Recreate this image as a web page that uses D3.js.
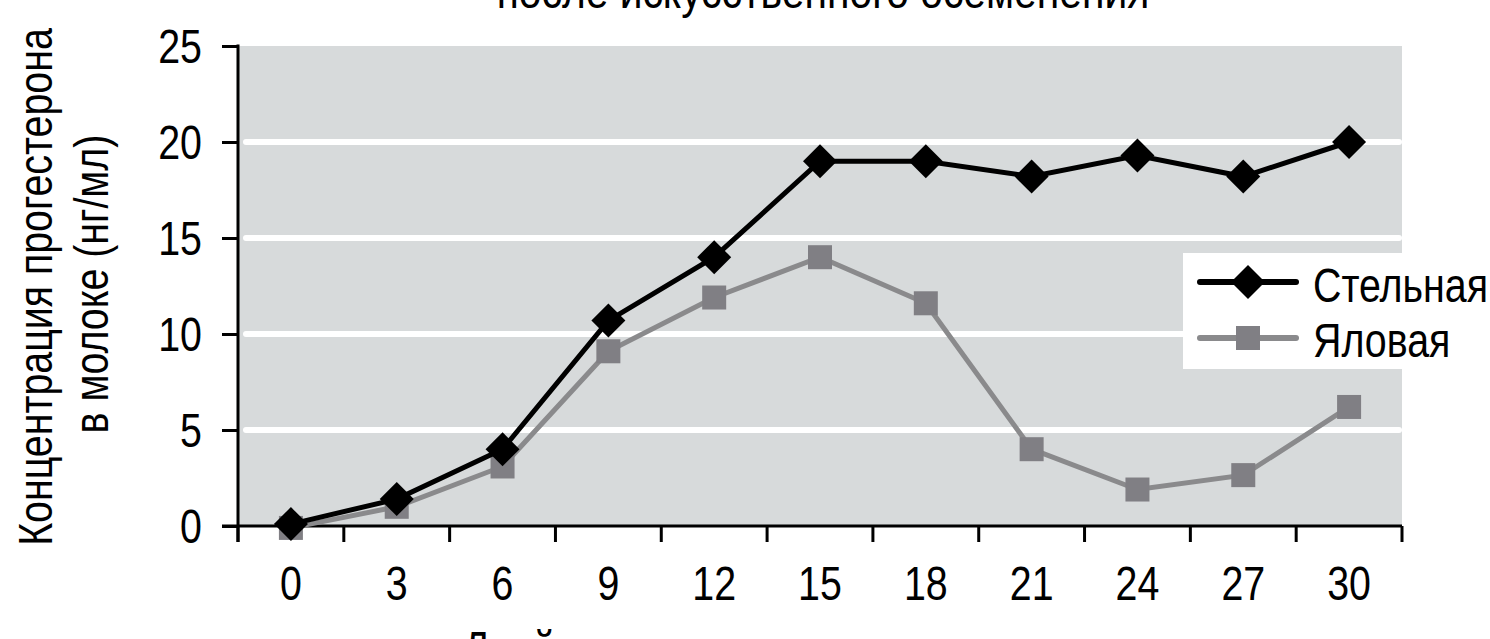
<!DOCTYPE html>
<html>
<head>
<meta charset="utf-8">
<script src="https://cdn.jsdelivr.net/npm/d3@7"></script>
<style>
  html, body { margin: 0; padding: 0; background: #fff; }
  svg { display: block; }
  text { font-family: "Liberation Sans", Arial, sans-serif; fill: #000; }
</style>
</head>
<body>
<svg id="chart" width="1490" height="639"></svg>
<script>
// Days after insemination
const days = [0, 3, 6, 9, 12, 15, 18, 21, 24, 27, 30];
// Progesterone in milk, ng/ml
const pregnant = [0.1, 1.4, 4.0, 10.7, 14.0, 19.0, 19.0, 18.2, 19.3, 18.2, 20.0];
const open = [-0.1, 1.0, 3.1, 9.1, 11.9, 14.0, 11.6, 4.0, 1.9, 2.65, 6.2];
const yTicks = [0, 5, 10, 15, 20, 25];
const gridValues = [5, 10, 15, 20];
const seriesNames = ["Стельная", "Яловая"];

const svg = d3.select("#chart");
const plotLeft = 238, plotRight = 1402, plotTop = 46, plotBottom = 526;
const FONT = 48, NARROW = 0.82;

const x = d3.scaleBand().domain(days).range([plotLeft, plotRight]).padding(0);
const y = d3.scaleLinear().domain([0, 25]).range([plotBottom, plotTop]);
const cx = d => x(d) + x.bandwidth() / 2;

// condensed text: regular sans squeezed along its baseline
function narrowText(parent, px, py, str, anchor = "start", rotate = 0, dy = null, squeeze = NARROW) {
  const g = parent.append("g")
    .attr("transform", `translate(${px},${py}) rotate(${rotate}) scale(${squeeze},1)`);
  const t = g.append("text").attr("font-size", FONT).attr("text-anchor", anchor).text(str);
  if (dy) t.attr("dy", dy);
  return t;
}

// plot background
svg.append("rect")
  .attr("x", plotLeft).attr("y", y(25))
  .attr("width", plotRight - plotLeft).attr("height", y(0) - y(25))
  .attr("fill", "#d7dadb");

// white horizontal grid
svg.append("g").selectAll("line").data(gridValues).join("line")
  .attr("x1", plotLeft + 8).attr("x2", plotRight - 3)
  .attr("y1", d => y(d)).attr("y2", d => y(d))
  .attr("stroke", "#fff").attr("stroke-width", 6).attr("stroke-linecap", "round");

// y axis (ticks from d3, labels drawn condensed)
const yAxis = d3.axisLeft(y).tickValues(yTicks).tickSize(16).tickFormat("").tickSizeOuter(0);
const gy = svg.append("g").attr("transform", `translate(${plotLeft},0)`).call(yAxis);
gy.select(".domain").remove();
gy.append("line").attr("x1", 0).attr("x2", 0).attr("y1", y(25) - 1.5).attr("y2", plotBottom + 16)
  .attr("stroke", "#000").attr("stroke-width", 3);
gy.selectAll(".tick line").attr("stroke", "#000").attr("stroke-width", 3);
const gyl = svg.append("g");
yTicks.forEach(v => narrowText(gyl, 202, y(v), String(v), "end", 0, "0.36em"));

// x axis: ticks at band boundaries, labels at band centres
const gx = svg.append("g");
gx.append("line").attr("x1", plotLeft - 16).attr("x2", plotRight).attr("y1", plotBottom).attr("y2", plotBottom)
  .attr("stroke", "#000").attr("stroke-width", 3);
const boundaries = days.map(d => x(d)).concat([plotRight]);
gx.selectAll("line.tick").data(boundaries).join("line").attr("class", "tick")
  .attr("x1", d => d).attr("x2", d => d).attr("y1", plotBottom).attr("y2", plotBottom + 16)
  .attr("stroke", "#000").attr("stroke-width", 3);
days.forEach(d => narrowText(gx, cx(d), 600, String(d), "middle"));

// series lines
const line = d3.line().x((d, i) => cx(days[i])).y(d => y(d));
svg.append("path").datum(open).attr("d", line)
  .attr("fill", "none").attr("stroke", "#8a8a8c").attr("stroke-width", 5);
svg.append("g").selectAll("rect").data(open).join("rect")
  .attr("x", (d, i) => cx(days[i]) - 12)
  .attr("y", d => y(d) - 12).attr("width", 24).attr("height", 24)
  .attr("fill", "#807f84");

svg.append("path").datum(pregnant).attr("d", line)
  .attr("fill", "none").attr("stroke", "#000").attr("stroke-width", 5);
const diamond = s => `M0,${-s}L${s},0L0,${s}L${-s},0Z`;
svg.append("g").selectAll("path").data(pregnant).join("path")
  .attr("transform", (d, i) => `translate(${cx(days[i])},${y(d)})`)
  .attr("d", diamond(17)).attr("fill", "#000");

// legend
const lg = svg.append("g");
lg.append("rect").attr("x", 1183).attr("y", 253).attr("width", 320).attr("height", 116).attr("fill", "#fff");
lg.append("line").attr("x1", 1200).attr("x2", 1296).attr("y1", 282).attr("y2", 282)
  .attr("stroke", "#000").attr("stroke-width", 6).attr("stroke-linecap", "round");
lg.append("path").attr("transform", "translate(1248,282)").attr("d", diamond(17)).attr("fill", "#000");
lg.append("line").attr("x1", 1200).attr("x2", 1296).attr("y1", 338).attr("y2", 338)
  .attr("stroke", "#8a8a8c").attr("stroke-width", 6).attr("stroke-linecap", "round");
lg.append("rect").attr("x", 1236).attr("y", 326).attr("width", 24).attr("height", 24).attr("fill", "#807f84");
narrowText(lg, 1313, 302, seriesNames[0]);
narrowText(lg, 1313, 357, seriesNames[1]);

// y axis title (two lines)
narrowText(svg, 52, 287, "Концентрация прогестерона", "middle", -90);
narrowText(svg, 108, 284, "в молоке (нг/мл)", "middle", -90);

// chart title (second line) and x axis title
narrowText(svg, 823, 8, "после искусственного осеменения", "middle", 0, null, 0.85);
narrowText(svg, 463, 665, "Дней после осеменения");
</script>
</body>
</html>
